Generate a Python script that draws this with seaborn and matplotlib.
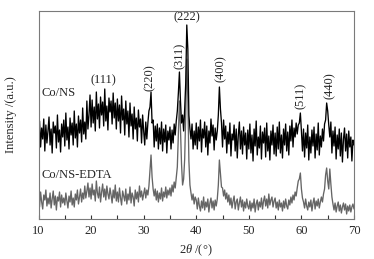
import numpy as np
import pandas as pd
import matplotlib
matplotlib.use("Agg")
import matplotlib.pyplot as plt
import seaborn as sns
from matplotlib.ticker import MultipleLocator

# ---- data (2theta grid: 10.0 .. 70.0 in 0.2 degree steps) ----
two_theta_start = 10.0
two_theta_step = 0.2

co_ns = [
    85, 98, 72, 91, 80, 100, 68, 94, 76, 88, 102, 74, 90, 66, 97, 86, 93, 71, 104, 77, 89, 67, 95, 82, 99,
    73, 106, 79, 92, 70, 101, 84, 96, 74, 108, 81, 95, 72, 103, 86, 99, 77, 111, 85, 97, 80, 118, 90, 104, 124,
    92, 119, 96, 112, 88, 127, 100, 115, 91, 122, 104, 117, 93, 130, 98, 113, 89, 121, 107, 118, 95, 126, 101, 116, 90,
    120, 98, 114, 86, 123, 99, 110, 84, 118, 95, 108, 82, 116, 93, 105, 80, 112, 90, 101, 78, 109, 92, 100, 76, 104,
    88, 74, 97, 80, 96, 108, 112, 127, 96, 99, 72, 93, 78, 95, 70, 91, 75, 97, 68, 90, 77, 94, 66, 88, 79,
    92, 70, 89, 76, 95, 84, 98, 108, 126, 147, 118, 96, 104, 88, 110, 136, 194, 170, 104, 90, 80, 95, 70, 88, 74,
    96, 70, 92, 78, 99, 67, 90, 81, 97, 72, 93, 64, 88, 76, 100, 83, 94, 69, 91, 79, 88, 104, 132, 110, 96,
    72, 99, 80, 93, 66, 87, 75, 96, 63, 85, 79, 94, 68, 90, 61, 84, 97, 70, 88, 65, 92, 74, 86, 60, 89,
    70, 95, 66, 84, 58, 90, 73, 98, 64, 82, 71, 93, 60, 87, 76, 91, 62, 96, 68, 83, 59, 88, 74, 94, 65,
    86, 63, 92, 70, 97, 66, 84, 61, 90, 74, 95, 68, 87, 64, 93, 78, 99, 72, 91, 82, 96, 85, 94, 96, 106,
    88, 68, 90, 62, 86, 71, 94, 59, 82, 66, 89, 73, 92, 61, 85, 69, 96, 64, 83, 72, 90, 78, 95, 99, 116,
    108, 94, 82, 97, 66, 88, 73, 92, 60, 84, 70, 90, 63, 86, 57, 80, 91, 68, 85, 61, 88, 72, 82, 58, 79, 74,
]

co_ns_edta = [
    22, 12, 27, 17, 10, 24, 19, 29, 13, 21, 15, 26, 11, 20, 28, 14, 23, 9, 22, 18, 27, 12, 24, 16, 21,
    14, 26, 18, 11, 23, 17, 28, 14, 21, 12, 25, 19, 29, 15, 22, 30, 17, 26, 20, 33, 21, 28, 36, 22, 31,
    20, 35, 24, 29, 18, 38, 26, 21, 32, 17, 27, 35, 22, 30, 19, 33, 25, 20, 31, 24, 16, 29, 21, 34, 18,
    27, 17, 31, 21, 14, 28, 23, 18, 30, 15, 25, 19, 32, 16, 26, 22, 13, 29, 20, 27, 17, 33, 22, 28, 19,
    25, 31, 21, 29, 24, 33, 48, 64, 42, 30, 23, 30, 19, 28, 17, 26, 20, 31, 18, 27, 22, 32, 21, 29, 24,
    31, 23, 34, 27, 37, 31, 41, 52, 84, 118, 90, 55, 34, 40, 60, 105, 160, 120, 58, 34, 26, 19, 25, 15, 22,
    19, 10, 21, 13, 8, 18, 11, 22, 9, 17, 12, 20, 7, 16, 21, 11, 18, 9, 19, 13, 20, 34, 59, 46, 32,
    31, 23, 29, 20, 26, 17, 24, 14, 21, 11, 18, 23, 10, 17, 20, 9, 16, 22, 12, 19, 8, 17, 11, 20, 13,
    10, 18, 8, 16, 11, 20, 7, 15, 19, 9, 17, 12, 21, 10, 18, 23, 13, 20, 11, 25, 14, 19, 22, 12, 18,
    21, 11, 17, 9, 19, 12, 16, 8, 18, 11, 20, 13, 10, 19, 14, 22, 16, 24, 19, 27, 23, 31, 38, 40, 46,
    30, 21, 17, 11, 20, 13, 9, 17, 12, 19, 8, 16, 21, 10, 18, 13, 20, 11, 17, 22, 17, 25, 30, 44, 51,
    38, 30, 50, 35, 22, 15, 9, 16, 7, 13, 17, 8, 14, 6, 12, 16, 9, 15, 5, 13, 8, 14, 7, 12, 15, 10,
]

samples = ["Co/NS", "Co/NS-EDTA"]
peak_labels = ["(111)", "(220)", "(311)", "(222)", "(400)", "(511)", "(440)"]
x_ticks = [10, 20, 30, 40, 50, 60, 70]

# ---- layout / style (kept separate from data) ----
peak_label_x = [22.3, 31.2, 36.95, 38.3, 44.6, 59.8, 65.3]
peak_label_y = [139, 141, 163, 202, 150, 123, 133]
peak_label_rot = [0, 90, 90, 0, 90, 90, 90]
sample_label_x = [10.5, 10.5]
sample_label_y = [126, 44]
colors = {"Co/NS": "black", "Co/NS-EDTA": "#656565"}

n = len(co_ns)
two_theta = np.round(two_theta_start + two_theta_step * np.arange(n), 2)
df = pd.DataFrame({
    "two_theta": np.concatenate([two_theta, two_theta]),
    "intensity": np.concatenate([co_ns, co_ns_edta]),
    "sample": [samples[0]] * n + [samples[1]] * len(co_ns_edta),
})

sns.set_style("ticks")
plt.rcParams["font.family"] = ["Liberation Serif", "DejaVu Serif"]
plt.rcParams["mathtext.fontset"] = "custom"
plt.rcParams["mathtext.rm"] = "Liberation Serif"
plt.rcParams["mathtext.it"] = "Liberation Serif:italic"

fig = plt.figure(figsize=(3.74, 2.59), dpi=100)
ax = fig.add_axes([38.5 / 374, 40 / 259, 315.5 / 374, 208 / 259])

sns.lineplot(data=df, x="two_theta", y="intensity", hue="sample",
             hue_order=samples[::-1], palette=colors, linewidth=0.95,
             estimator=None, legend=False, ax=ax)

ax.set_xlim(10, 70)
ax.set_ylim(0, 208)
ax.set_xticks(x_ticks)
ax.set_xticklabels([str(t) for t in x_ticks], fontsize=9)
ax.xaxis.set_minor_locator(MultipleLocator(5))
ax.tick_params(axis="x", which="both", direction="in", length=3, width=0.8,
               color="#333333", pad=4, top=False)
ax.set_yticks([])
for s in ax.spines.values():
    s.set_color("#7a7a7a")
    s.set_linewidth(0.8)

ax.set_xlabel(r"2$\it{\theta}$ /(°)", fontsize=9, labelpad=4)
ax.set_ylabel("Intensity /(a.u.)", fontsize=9)
ax.yaxis.set_label_coords(-0.068, 0.5)

for lab, lx, ly, rot in zip(peak_labels, peak_label_x, peak_label_y, peak_label_rot):
    ax.text(lx, ly, lab, rotation=rot, ha="center", va="center", fontsize=9)
for lab, lx, ly in zip(samples, sample_label_x, sample_label_y):
    ax.text(lx, ly, lab, ha="left", va="center", fontsize=9)

fig.savefig("out.png", dpi=100)
